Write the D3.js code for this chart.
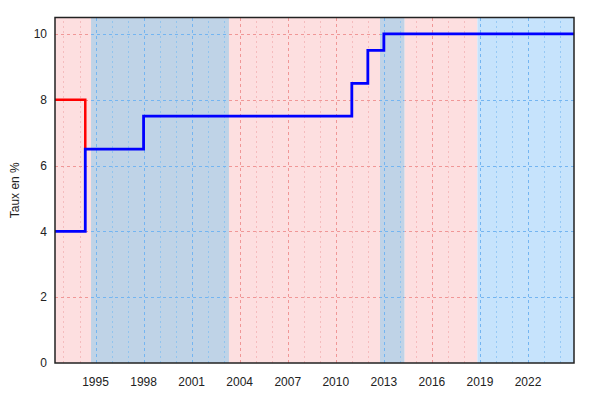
<!DOCTYPE html>
<html>
<head>
<meta charset="utf-8">
<script src="https://cdn.jsdelivr.net/npm/d3@7"></script>
<style>
  body { margin: 0; background: #fff; }
  text { font-family: "Liberation Sans", Arial, sans-serif; fill: #222; }
</style>
</head>
<body>
<script>
// x domain (years, fractional) and y domain
var xDomain = [1992.47, 2024.87];
var yDomain = [0, 10.5];

var tickYears = [1995, 1998, 2001, 2004, 2007, 2010, 2013, 2016, 2019, 2022];
var yTicks = [0, 2, 4, 6, 8, 10];

// background periods
var bandStart = [1992.47, 1994.72, 2003.33, 2012.76, 2014.3, 2018.84];
var bandEnd   = [1994.72, 2003.33, 2012.76, 2014.3, 2018.84, 2024.87];
var bandKind  = ["rouge", "bleu", "rouge", "bleu", "rouge", "bleuclair"];

// step series
var redYears  = [1992.47, 1994.36];
var redRates  = [8, 6.5];
var blueYears = [1992.47, 1994.36, 1998, 2011, 2012, 2013, 2024.87];
var blueRates = [4, 6.5, 7.5, 8.5, 9.5, 10, 10];

var width = 600, height = 400;
var margin = {left: 55, right: 26, top: 17.5, bottom: 37};

var fill = {rouge: "#fddfe0", bleu: "#bfd3e7", bleuclair: "#c6e3fc"};
var majorCol = {rouge: "#f09797", bleu: "#74b5f1", bleuclair: "#74b5f1"};
var minorCol = {rouge: "#f5bcbe", bleu: "#92c4ee", bleuclair: "#96c9f5"};

var x = d3.scaleLinear().domain(xDomain).range([margin.left, width - margin.right]);
var y = d3.scaleLinear().domain(yDomain).range([height - margin.bottom, margin.top]);

// snap 1px grid lines to the pixel grid so they stay crisp
function px(v) { return Math.round(v) + 0.5; }

var svg = d3.select("body").append("svg")
    .attr("width", width)
    .attr("height", height);

var bands = bandStart.map(function(s, i) {
  return {start: s, end: bandEnd[i], kind: bandKind[i]};
});

var defs = svg.append("defs");
bands.forEach(function(b, i) {
  defs.append("clipPath").attr("id", "band" + i)
    .append("rect")
    .attr("x", x(b.start)).attr("y", y(yDomain[1]))
    .attr("width", x(b.end) - x(b.start))
    .attr("height", y(yDomain[0]) - y(yDomain[1]));
});

svg.append("g").selectAll("rect")
  .data(bands)
  .enter().append("rect")
    .attr("x", function(d) { return x(d.start); })
    .attr("y", y(yDomain[1]))
    .attr("width", function(d) { return x(d.end) - x(d.start); })
    .attr("height", y(yDomain[0]) - y(yDomain[1]))
    .style("fill", function(d) { return fill[d.kind]; });

var allYears = d3.range(Math.ceil(xDomain[0]), Math.floor(xDomain[1]) + 1);
var minorYears = allYears.filter(function(v) { return tickYears.indexOf(v) < 0; });

// gridlines coloured per period
bands.forEach(function(b, i) {
  var g = svg.append("g").attr("clip-path", "url(#band" + i + ")");

  g.selectAll("line.minor")
    .data(minorYears)
    .enter().append("line")
      .attr("x1", function(d) { return px(x(d)); })
      .attr("x2", function(d) { return px(x(d)); })
      .attr("y1", y(yDomain[0])).attr("y2", y(yDomain[1]))
      .style("stroke", minorCol[b.kind])
      .style("stroke-width", 1).style("stroke-dasharray", "2,3");

  g.selectAll("line.major")
    .data(tickYears)
    .enter().append("line")
      .attr("x1", function(d) { return px(x(d)); })
      .attr("x2", function(d) { return px(x(d)); })
      .attr("y1", y(yDomain[0])).attr("y2", y(yDomain[1]))
      .style("stroke", majorCol[b.kind])
      .style("stroke-width", 1).style("stroke-dasharray", "3,3");

  g.selectAll("line.h")
    .data(yTicks.slice(1))
    .enter().append("line")
      .attr("x1", x(xDomain[0])).attr("x2", x(xDomain[1]))
      .attr("y1", function(d) { return px(y(d)); })
      .attr("y2", function(d) { return px(y(d)); })
      .style("stroke", majorCol[b.kind])
      .style("stroke-width", 1).style("stroke-dasharray", "3,3");
});

var line = d3.line()
  .x(function(d) { return x(d[0]); })
  .y(function(d) { return y(d[1]); })
  .curve(d3.curveStepAfter);

svg.append("path")
  .datum(d3.zip(redYears, redRates))
  .attr("d", line)
  .style("fill", "none").style("stroke", "#ff0000").style("stroke-width", 2.5);

svg.append("path")
  .datum(d3.zip(blueYears, blueRates))
  .attr("d", line)
  .style("fill", "none").style("stroke", "#0000ff").style("stroke-width", 2.8);

// frame
svg.append("rect")
  .attr("x", x(xDomain[0])).attr("y", y(yDomain[1]))
  .attr("width", x(xDomain[1]) - x(xDomain[0]))
  .attr("height", y(yDomain[0]) - y(yDomain[1]))
  .style("fill", "none").style("stroke", "#222").style("stroke-width", 1.5);

// axes labels
svg.append("g").selectAll("text")
  .data(tickYears)
  .enter().append("text")
    .attr("x", function(d) { return x(d); })
    .attr("y", 386)
    .attr("text-anchor", "middle")
    .style("font-size", "12px")
    .text(function(d) { return d; });

svg.append("g").selectAll("text")
  .data(yTicks)
  .enter().append("text")
    .attr("x", 47)
    .attr("y", function(d) { return y(d) + 4.3; })
    .attr("text-anchor", "end")
    .style("font-size", "12px")
    .text(function(d) { return d; });

svg.append("text")
  .attr("transform", "translate(19," + (y(yDomain[0]) + y(yDomain[1])) / 2 + ")rotate(-90)")
  .attr("text-anchor", "middle")
  .style("font-size", "12px")
  .text("Taux en %");
</script>
</body>
</html>
